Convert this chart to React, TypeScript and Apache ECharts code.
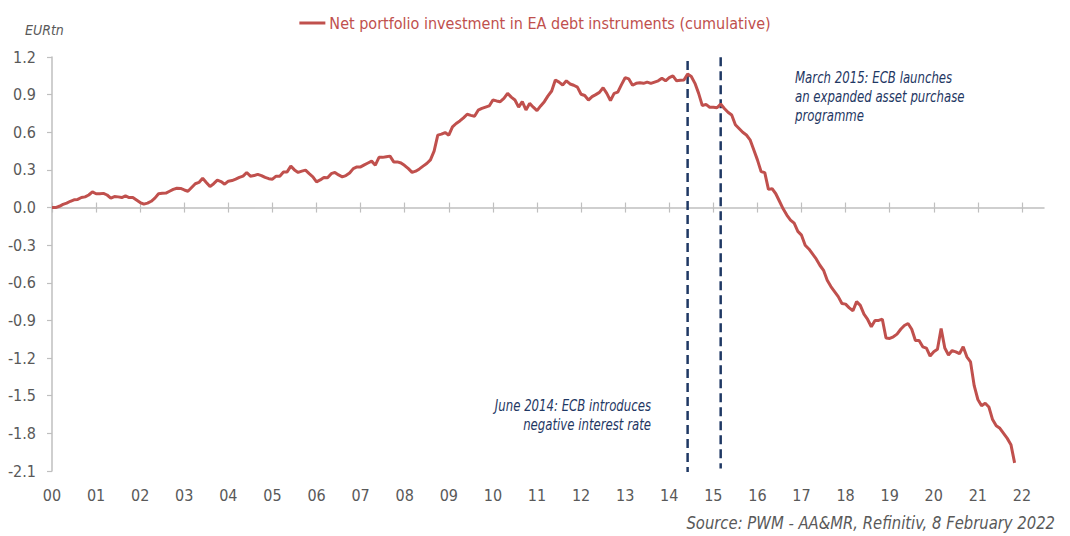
import React, { useEffect, useRef } from "react";
import * as echarts from "echarts";

// Cumulative net portfolio investment in EA debt instruments, EUR tn, monthly (Jan of each year first)
const values2000 = [0.0, 0.0, 0.01, 0.025, 0.035, 0.05, 0.062, 0.065, 0.08, 0.085, 0.1, 0.125];
const values2001 = [0.11, 0.11, 0.113, 0.1, 0.075, 0.088, 0.085, 0.08, 0.093, 0.08, 0.08, 0.06];
const values2002 = [0.04, 0.027, 0.035, 0.05, 0.075, 0.11, 0.114, 0.115, 0.13, 0.145, 0.154, 0.152];
const values2003 = [0.14, 0.13, 0.16, 0.19, 0.2, 0.234, 0.2, 0.167, 0.19, 0.218, 0.207, 0.186];
const values2004 = [0.21, 0.215, 0.226, 0.24, 0.25, 0.279, 0.25, 0.255, 0.265, 0.255, 0.24, 0.23];
const values2005 = [0.226, 0.25, 0.25, 0.284, 0.284, 0.33, 0.3, 0.28, 0.29, 0.298, 0.27, 0.245];
const values2006 = [0.205, 0.22, 0.24, 0.237, 0.27, 0.28, 0.26, 0.245, 0.255, 0.275, 0.31, 0.324];
const values2007 = [0.324, 0.34, 0.355, 0.37, 0.338, 0.4, 0.4, 0.405, 0.41, 0.364, 0.364, 0.355];
const values2008 = [0.335, 0.31, 0.28, 0.29, 0.308, 0.33, 0.351, 0.38, 0.45, 0.577, 0.585, 0.598];
const values2009 = [0.577, 0.643, 0.67, 0.69, 0.715, 0.744, 0.735, 0.728, 0.776, 0.79, 0.8, 0.81];
const values2010 = [0.857, 0.85, 0.844, 0.87, 0.91, 0.88, 0.857, 0.8, 0.844, 0.778, 0.83, 0.8];
const values2011 = [0.772, 0.81, 0.844, 0.89, 0.929, 1.017, 1.0, 0.977, 1.01, 0.985, 0.975, 0.96];
const values2012 = [0.903, 0.893, 0.857, 0.884, 0.9, 0.918, 0.955, 0.91, 0.852, 0.91, 0.92, 0.98];
const values2013 = [1.035, 1.025, 0.975, 0.99, 0.995, 0.99, 1.0, 0.99, 1.0, 1.01, 1.03, 1.01];
const values2014 = [1.035, 1.05, 1.01, 1.015, 1.017, 1.065, 1.045, 0.99, 0.91, 0.812, 0.822, 0.8];
const values2015 = [0.8, 0.795, 0.825, 0.79, 0.76, 0.738, 0.66, 0.63, 0.6, 0.578, 0.54, 0.46];
const values2016 = [0.38, 0.286, 0.278, 0.145, 0.15, 0.11, 0.05, -0.01, -0.06, -0.1, -0.125, -0.19];
const values2017 = [-0.22, -0.3, -0.33, -0.37, -0.41, -0.46, -0.5, -0.58, -0.63, -0.67, -0.71, -0.765];
const values2018 = [-0.77, -0.8, -0.823, -0.75, -0.78, -0.85, -0.892, -0.95, -0.9, -0.9, -0.89, -1.04];
const values2019 = [-1.043, -1.03, -1.009, -0.97, -0.94, -0.924, -0.97, -1.06, -1.06, -1.11, -1.12, -1.184];
const values2020 = [-1.15, -1.13, -0.965, -1.12, -1.175, -1.14, -1.15, -1.165, -1.11, -1.19, -1.23, -1.42];
const values2021 = [-1.53, -1.58, -1.56, -1.59, -1.69, -1.74, -1.76, -1.8, -1.84, -1.89, -2.035];

const seriesValues = [
  ...values2000, ...values2001, ...values2002, ...values2003, ...values2004, ...values2005,
  ...values2006, ...values2007, ...values2008, ...values2009, ...values2010, ...values2011,
  ...values2012, ...values2013, ...values2014, ...values2015, ...values2016, ...values2017,
  ...values2018, ...values2019, ...values2020, ...values2021,
];

// Monthly categories Jan 2000 .. Jul 2022 (axis extends half a year past the last label)
const FIRST_YEAR = 2000;
const MONTH_COUNT = 271;
const categories: string[] = [];
for (let i = 0; i < MONTH_COUNT; i++) {
  const y = FIRST_YEAR + Math.floor(i / 12);
  const m = (i % 12) + 1;
  categories.push(`${y}-${m < 10 ? "0" + m : m}`);
}

// Event markers: month, top value, bottom value of the dashed line
const eventMonths = ["2014-06", "2015-03"];
const eventTops = [1.168, 1.198];
const eventBottoms = [-2.107, -2.08];

const seriesName = "Net portfolio investment in EA debt instruments (cumulative)";
const yTicks = { min: -2.1, max: 1.2, interval: 0.3 };

const FONT = "'Liberation Sans Narrow', 'DejaVu Sans Condensed', 'Roboto Condensed', 'Liberation Sans', sans-serif";
const RED = "#C0504D";
const NAVY = "#1F3864";
const GRAY_TEXT = "#595959";
const AXIS_GRAY = "#BFBFBF";

export default function App() {
  const ref = useRef<HTMLDivElement>(null);
  useEffect(() => {
    if (!ref.current) return;
    const chart = echarts.init(ref.current, undefined, { renderer: "svg" });
    const labelFmt = (v: string) => v.slice(2, 4);
    const eventSeries = eventMonths.map((m, i) => ({
      name: "event" + i,
      type: "line",
      xAxisIndex: 0,
      data: [
        [m, eventTops[i]],
        [m, eventBottoms[i]],
      ],
      showSymbol: false,
      symbol: "none",
      silent: true,
      lineStyle: { color: NAVY, width: 2.5, type: [9, 5] },
      z: 1,
    }));
    chart.setOption({
      animation: false,
      backgroundColor: "#ffffff",
      textStyle: { fontFamily: FONT },
      legend: {
        top: 10,
        left: "center",
        icon: "rect",
        itemWidth: 26,
        itemHeight: 3,
        itemGap: 10,
        textStyle: { color: RED, fontSize: 16, fontFamily: FONT, padding: [0, 0, 0, -1] },
        data: [seriesName],
      },
      grid: { left: 52, right: 26, top: 57, bottom: 65, containLabel: false },
      xAxis: [
        {
          type: "category",
          data: categories,
          boundaryGap: false,
          position: "bottom",
          axisLine: { show: false, onZero: false },
          axisTick: { show: false },
          axisLabel: {
            interval: 11,
            formatter: labelFmt,
            color: GRAY_TEXT,
            fontSize: 16,
            fontFamily: FONT,
            margin: 16,
          },
          splitLine: { show: false },
        },
        {
          type: "category",
          data: categories,
          boundaryGap: false,
          position: "bottom",
          axisLine: { show: true, onZero: true, onZeroAxisIndex: 0, lineStyle: { color: AXIS_GRAY, width: 1.5 } },
          axisTick: { show: true, interval: 11, length: 5, inside: false, lineStyle: { color: AXIS_GRAY, width: 1.2 } },
          axisLabel: { show: false },
          splitLine: { show: false },
        },
        {
          type: "category",
          data: categories,
          boundaryGap: false,
          position: "bottom",
          axisLine: { show: false, onZero: true, onZeroAxisIndex: 0 },
          axisTick: { show: true, interval: 11, length: 5, inside: true, lineStyle: { color: AXIS_GRAY, width: 1.2 } },
          axisLabel: { show: false },
          splitLine: { show: false },
        },
      ],
      yAxis: {
        type: "value",
        min: yTicks.min,
        max: yTicks.max,
        interval: yTicks.interval,
        axisLine: { show: true, lineStyle: { color: AXIS_GRAY, width: 1.5 } },
        axisTick: { show: true, length: 5, lineStyle: { color: AXIS_GRAY, width: 1.2 } },
        axisLabel: {
          formatter: (v: number) => v.toFixed(1),
          color: GRAY_TEXT,
          fontSize: 16,
          fontFamily: FONT,
          margin: 16,
        },
        splitLine: { show: false },
      },
      series: [
        ...eventSeries,
        {
          name: seriesName,
          type: "line",
          xAxisIndex: 0,
          data: seriesValues,
          showSymbol: false,
          symbol: "none",
          lineStyle: { color: RED, width: 3 },
          itemStyle: { color: RED },
          z: 3,
        },
      ],
      graphic: [
        {
          type: "text",
          x: 25,
          y: 23,
          style: { text: "EURtn", fill: GRAY_TEXT, font: `italic 14px ${FONT}` },
        },
        {
          type: "text",
          x: 795,
          y: 68,
          scaleX: 0.87,
          style: {
            text: "March 2015: ECB launches\nan expanded asset purchase\nprogramme",
            fill: NAVY,
            font: `italic 15px ${FONT}`,
            lineHeight: 19,
            align: "left",
          },
        },
        {
          type: "text",
          x: 651,
          y: 396,
          scaleX: 0.87,
          style: {
            text: "June 2014: ECB introduces\nnegative interest rate",
            fill: NAVY,
            font: `italic 15px ${FONT}`,
            lineHeight: 19,
            align: "right",
          },
        },
        {
          type: "text",
          x: 1055,
          y: 514,
          scaleX: 0.915,
          style: {
            text: "Source: PWM - AA&MR, Refinitiv, 8 February 2022",
            fill: GRAY_TEXT,
            font: `italic 18px ${FONT}`,
            align: "right",
          },
        },
      ],
    });
    return () => chart.dispose();
  }, []);
  return <div ref={ref} style={{ width: 1070, height: 536, position: "absolute", left: 0, top: 0 }} />;
}
